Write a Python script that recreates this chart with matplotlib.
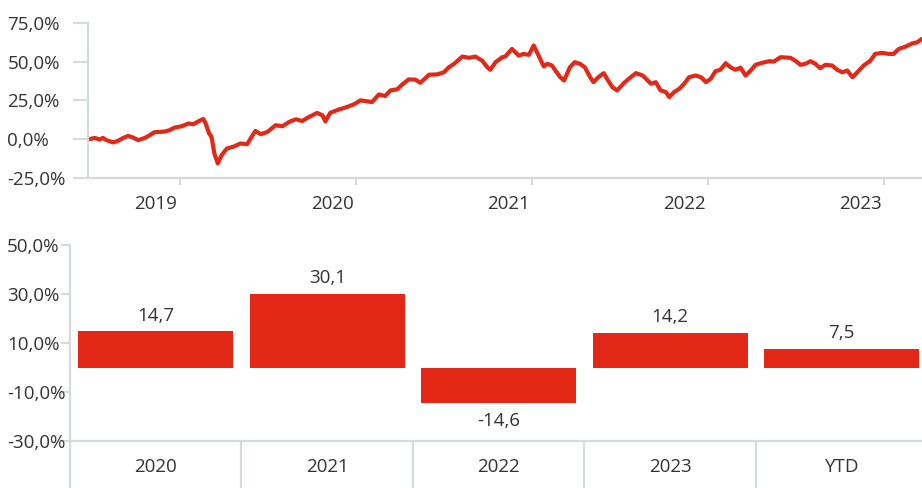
import matplotlib.pyplot as plt
import pandas as pd

RED = '#E42817'
GREY = '#D5DBDA'
TEXT = '#333333'

plt.rcParams['font.family'] = ['Open Sans', 'DejaVu Sans']

# cumulative performance (%)
dates = [
    '2019-06-24', '2019-07-08', '2019-07-18', '2019-07-25', '2019-08-01', '2019-08-15',
    '2019-08-25', '2019-09-05', '2019-09-15', '2019-09-25', '2019-10-06', '2019-10-20',
    '2019-10-30', '2019-11-09', '2019-11-20', '2019-11-30', '2019-12-10', '2019-12-21',
    '2020-01-04', '2020-01-18', '2020-01-28', '2020-02-08', '2020-02-18', '2020-02-23',
    '2020-03-01', '2020-03-06', '2020-03-12', '2020-03-19', '2020-03-27', '2020-04-07',
    '2020-04-20', '2020-05-05', '2020-05-19', '2020-05-26', '2020-06-05', '2020-06-16',
    '2020-06-30', '2020-07-17', '2020-07-31', '2020-08-14', '2020-08-28', '2020-09-10',
    '2020-09-24', '2020-10-11', '2020-10-22', '2020-10-28', '2020-11-07', '2020-11-24',
    '2020-12-12', '2020-12-26', '2021-01-09', '2021-02-02', '2021-02-16', '2021-03-01',
    '2021-03-12', '2021-03-26', '2021-04-05', '2021-04-19', '2021-05-03', '2021-05-13',
    '2021-05-31', '2021-06-17', '2021-07-01', '2021-07-11', '2021-07-22', '2021-08-08',
    '2021-08-22', '2021-09-04', '2021-09-18', '2021-09-29', '2021-10-05', '2021-10-16',
    '2021-10-30', '2021-11-05', '2021-11-19', '2021-12-03', '2021-12-13', '2021-12-24',
    '2022-01-03', '2022-01-14', '2022-01-24', '2022-01-31', '2022-02-10', '2022-02-17',
    '2022-02-27', '2022-03-07', '2022-03-19', '2022-03-29', '2022-04-09', '2022-04-19',
    '2022-04-30', '2022-05-07', '2022-05-17', '2022-05-28', '2022-06-04', '2022-06-15',
    '2022-06-25', '2022-07-09', '2022-07-23', '2022-08-03', '2022-08-17', '2022-09-03',
    '2022-09-13', '2022-09-23', '2022-10-04', '2022-10-11', '2022-10-21', '2022-11-01',
    '2022-11-11', '2022-11-21', '2022-12-05', '2022-12-16', '2022-12-26', '2023-01-05',
    '2023-01-15', '2023-01-25', '2023-02-05', '2023-02-15', '2023-02-25', '2023-03-08',
    '2023-03-18', '2023-03-29', '2023-04-08', '2023-04-22', '2023-05-06', '2023-05-16',
    '2023-05-30', '2023-06-19', '2023-06-29', '2023-07-10', '2023-07-20', '2023-07-31',
    '2023-08-10', '2023-08-20', '2023-08-31', '2023-09-14', '2023-09-24', '2023-10-05',
    '2023-10-15', '2023-10-26', '2023-11-05', '2023-11-18', '2023-12-02', '2023-12-12',
    '2023-12-26', '2024-01-09', '2024-01-19', '2024-01-30', '2024-02-13', '2024-02-27',
    '2024-03-08', '2024-03-18',
]
perf = [
    -0.2, 0.8, -0.2, 0.8, -0.6, -2.1,
    -1.1, 0.8, 2.1, 1.1, -0.6, 0.8,
    2.6, 4.5, 4.7, 4.9, 5.8, 7.5,
    8.3, 10.1, 9.6, 11.5, 13.0, 10.1,
    3.7, 1.5, -9.2, -15.6, -10.3, -6.0,
    -4.9, -2.8, -3.2, 0.4, 5.3, 3.2,
    4.7, 9.0, 8.3, 11.1, 12.8, 11.7,
    14.3, 16.9, 15.4, 11.5, 16.9, 19.0,
    20.7, 22.4, 25.0, 23.9, 28.8, 27.8,
    31.4, 32.1, 35.1, 38.5, 38.3, 36.3,
    41.5, 41.7, 43.1, 46.3, 48.5, 53.2,
    52.4, 53.2, 50.6, 46.3, 44.7, 49.6,
    52.8, 53.2, 58.1, 53.8, 54.9, 54.3,
    60.3, 53.2, 46.8, 48.5, 47.4, 44.2,
    39.9, 37.8, 46.3, 49.6, 48.5, 46.3,
    39.9, 36.7, 39.9, 42.5, 38.9, 33.5,
    31.4, 36.1, 39.9, 42.5, 41.0, 35.7,
    36.7, 31.4, 30.3, 27.1, 30.3, 32.5,
    35.7, 39.9, 41.0, 39.9, 36.7, 38.9,
    43.8, 44.7, 48.9, 46.3, 44.7, 46.0,
    41.0, 44.2, 47.9, 49.2, 50.2, 50.0,
    52.8, 52.4, 50.6, 47.9, 48.5, 50.2,
    48.5, 45.7, 47.9, 47.4, 44.7, 43.1,
    44.2, 39.9, 43.1, 47.4, 50.6, 54.9,
    55.6, 54.9, 54.9, 58.1, 59.6, 61.7,
    62.4, 64.6,
]

year_ticks = ['2019-12-31', '2020-12-31', '2021-12-31', '2022-12-31', '2023-12-31']
year_labels = ['2019', '2020', '2021', '2022', '2023']

# calendar year returns (%)
periods = ['2020', '2021', '2022', '2023', 'YTD']
returns = [14.7, 30.1, -14.6, 14.2, 7.5]


def pct(v):
    return f"{v:.1f}%".replace('.', ',')


fig = plt.figure(figsize=(9.22, 4.88), dpi=100)
ax1 = fig.add_axes([88 / 922, 1 - 178 / 488, 1 - 88 / 922, (178 - 22.7) / 488])
ax2 = fig.add_axes([70 / 922, 1 - 441 / 488, 1 - 70 / 922, (441 - 245) / 488])

# --- top: cumulative line
x = pd.to_datetime(dates)
ax1.plot(x, perf, color=RED, lw=3, solid_joinstyle='round', solid_capstyle='round')
ax1.set_xlim(pd.Timestamp('2019-06-24'), pd.Timestamp('2024-03-18'))
ax1.set_ylim(-25, 75)
yt = [-25, 0, 25, 50, 75]
ax1.set_yticks(yt, labels=[pct(v) for v in yt])
ax1.tick_params(axis='y', length=10.5, width=1.5, color=GREY, pad=47.5,
                labelsize=13.5, labelcolor=TEXT)
for lbl in ax1.get_yticklabels():
    lbl.set_horizontalalignment('left')

ticks = pd.to_datetime(year_ticks)
ax1.set_xticks(ticks)
ax1.tick_params(axis='x', which='major', length=5, width=1.5, color=GREY, labelbottom=False)
ax1.set_xticks(ticks - pd.Timedelta(days=50), labels=year_labels, minor=True)
ax1.tick_params(axis='x', which='minor', length=0, pad=12, labelsize=13.5, labelcolor=TEXT)

# --- bottom: annual returns
pos = range(len(periods))
ax2.bar(pos, returns, width=0.904, color=RED)
ax2.set_xlim(-0.5, 4.468)
ax2.set_ylim(-30, 50)
yt2 = [-30, -10, 10, 30, 50]
ax2.set_yticks(yt2, labels=[pct(v) for v in yt2])
ax2.tick_params(axis='y', length=6.5, width=1.5, color=GREY, pad=39,
                labelsize=13.5, labelcolor=TEXT)
for lbl in ax2.get_yticklabels():
    lbl.set_horizontalalignment('left')
ax2.set_xticks(list(pos), labels=periods)
ax2.tick_params(axis='x', length=0, pad=12, labelsize=13.5, labelcolor=TEXT)

for i, v in enumerate(returns):
    ax2.annotate(f"{v:.1f}".replace('.', ','), (i, v),
                 xytext=(0, 5 if v >= 0 else -6), textcoords='offset points',
                 ha='center', va='bottom' if v >= 0 else 'top',
                 fontsize=13.5, color=TEXT)

xf = ax2.get_xaxis_transform()
for b in [-0.5, 0.5, 1.5, 2.5, 3.5]:
    ax2.plot([b, b], [0, -0.25], transform=xf, color=GREY, lw=1.6, clip_on=False)

for ax in (ax1, ax2):
    for side in ('top', 'right'):
        ax.spines[side].set_visible(False)
    for side in ('left', 'bottom'):
        ax.spines[side].set_color(GREY)
        ax.spines[side].set_linewidth(1.6)
    ax.set_facecolor('none')

fig.savefig('out.png', dpi=100)
